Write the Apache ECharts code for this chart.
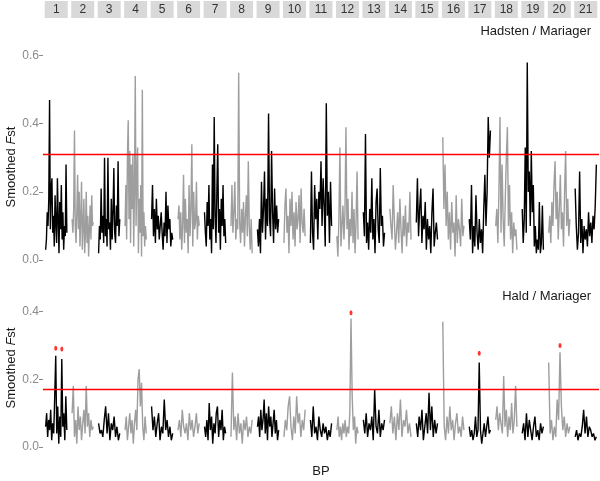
<!DOCTYPE html>
<html>
<head>
<meta charset="utf-8">
<script src="https://cdn.jsdelivr.net/npm/echarts@6/dist/echarts.min.js"></script>
<style>
  html, body { margin: 0; padding: 0; background: #fff; }
  #chart { width: 600px; height: 481px; }
</style>
</head>
<body>
<div id="chart"></div>
<script>
// chromosome strip labels
const chromosomes = ['1','2','3','4','5','6','7','8','9','10','11','12','13','14','15','16','17','18','19','20','21']

// smoothed Fst along each chromosome, Hadsten / Mariager
const hadstenFst = [
  [0.03,0.06,0.14,0.10,0.18,0.47,0.09,0.21,0.24,0.08,0.13,0.04,0.19,0.11,0.05,0.24,0.12,0.02,0.17,0.09,0.22,0.06,0.14,0.03,0.10,0.07,0.28,0.08],
  [0.12,0.08,0.15,0.38,0.10,0.05,0.14,0.25,0.09,0.20,0.04,0.12,0.23,0.03,0.10,0.18,0.02,0.08,0.20,0.05,0.13,0.01,0.09,0.16,0.06,0.19,0.10,0.11],
  [0.02,0.10,0.06,0.21,0.08,0.13,0.05,0.30,0.07,0.12,0.04,0.30,0.09,0.11,0.03,0.18,0.06,0.14,0.27,0.08,0.05,0.16,0.10,0.29,0.07,0.12],
  [0.10,0.22,0.06,0.30,0.41,0.12,0.32,0.05,0.28,0.15,0.31,0.04,0.20,0.54,0.10,0.25,0.33,0.02,0.18,0.08,0.22,0.01,0.50,0.07,0.14,0.04,0.10,0.06],
  [0.12,0.22,0.07,0.15,0.05,0.18,0.09,0.13,0.06,0.10,0.14,0.08,0.03,0.11,0.07,0.20,0.05,0.16,0.09,0.12,0.04,0.08,0.06],
  [0.12,0.16,0.06,0.14,0.03,0.10,0.25,0.05,0.18,0.08,0.12,0.02,0.22,0.07,0.15,0.34,0.04,0.20,0.09,0.11,0.23,0.06,0.13,0.10],
  [0.14,0.08,0.04,0.17,0.10,0.22,0.06,0.12,0.02,0.28,0.09,0.42,0.13,0.05,0.20,0.34,0.08,0.15,0.03,0.18,0.10,0.22,0.07,0.12,0.05],
  [0.10,0.22,0.08,0.14,0.23,0.06,0.12,0.09,0.55,0.11,0.05,0.15,0.08,0.17,0.04,0.13,0.19,0.07,0.29,0.10,0.03,0.12,0.02],
  [0.09,0.04,0.12,0.02,0.23,0.08,0.15,0.26,0.06,0.18,0.10,0.43,0.12,0.07,0.32,0.14,0.05,0.21,0.09,0.16,0.08,0.12],
  [0.05,0.16,0.21,0.08,0.13,0.02,0.18,0.10,0.20,0.06,0.14,0.04,0.17,0.09,0.12,0.19,0.05,0.21,0.11,0.08,0.15,0.07],
  [0.05,0.26,0.08,0.03,0.22,0.12,0.18,0.06,0.20,0.15,0.29,0.10,0.24,0.16,0.04,0.46,0.13,0.20,0.05,0.23,0.10],
  [0.07,0.01,0.12,0.33,0.04,0.10,0.16,0.06,0.14,0.39,0.09,0.18,0.03,0.12,0.07,0.20,0.05,0.15,0.02,0.11,0.26,0.06],
  [0.14,0.07,0.37,0.05,0.11,0.03,0.15,0.08,0.24,0.06,0.12,0.02,0.17,0.21,0.09,0.05,0.27,0.10,0.13,0.04,0.08],
  [0.15,0.10,0.06,0.22,0.12,0.03,0.08,0.14,0.05,0.18,0.09,0.02,0.13,0.07,0.16,0.04,0.11,0.08,0.20,0.06],
  [0.11,0.24,0.07,0.15,0.21,0.05,0.13,0.09,0.17,0.03,0.12,0.06,0.10,0.02,0.14,0.21,0.04,0.08,0.11,0.06],
  [0.36,0.15,0.28,0.10,0.20,0.06,0.14,0.03,0.17,0.08,0.11,0.01,0.19,0.05,0.12,0.09,0.04,0.18,0.07,0.10],
  [0.12,0.06,0.22,0.02,0.10,0.04,0.19,0.08,0.03,0.12,0.05,0.09,0.02,0.15,0.25,0.10,0.20,0.42,0.30,0.38],
  [0.10,0.15,0.05,0.20,0.42,0.08,0.28,0.12,0.04,0.18,0.30,0.39,0.10,0.22,0.06,0.14,0.02,0.11,0.07,0.09,0.03],
  [0.15,0.05,0.12,0.33,0.08,0.58,0.20,0.26,0.10,0.32,0.14,0.22,0.04,0.10,0.02,0.06,0.03,0.17,0.02,0.05,0.16,0.03],
  [0.08,0.13,0.05,0.17,0.10,0.22,0.29,0.12,0.20,0.06,0.15,0.25,0.09,0.14,0.04,0.20,0.32,0.10,0.18,0.07,0.12],
  [0.21,0.10,0.03,0.08,0.26,0.05,0.12,0.02,0.10,0.06,0.09,0.04,0.14,0.07,0.11,0.05,0.13,0.09,0.16,0.28]
]

// smoothed Fst along each chromosome, Hald / Mariager
const haldFst = [
  [0.06,0.10,0.03,0.08,0.05,0.11,0.02,0.07,0.04,0.15,0.27,0.04,0.12,0.01,0.09,0.03,0.26,0.06,0.10,0.02,0.15,0.05],
  [0.10,0.18,0.03,0.08,0.01,0.12,0.05,0.09,0.02,0.07,0.11,0.04,0.18,0.06,0.10,0.03,0.08,0.05,0.06],
  [0.07,0.04,0.05,0.03,0.08,0.12,0.04,0.10,0.02,0.07,0.05,0.09,0.03,0.06,0.02,0.04],
  [0.05,0.09,0.02,0.06,0.10,0.04,0.08,0.01,0.07,0.11,0.05,0.20,0.23,0.12,0.19,0.06,0.02,0.09,0.04],
  [0.12,0.05,0.09,0.03,0.07,0.10,0.02,0.06,0.04,0.14,0.05,0.08,0.03,0.06,0.02,0.04],
  [0.05,0.08,0.03,0.11,0.06,0.04,0.07,0.02,0.10,0.05,0.08,0.03,0.06,0.10,0.04,0.07],
  [0.06,0.03,0.08,0.02,0.13,0.05,0.09,0.01,0.07,0.04,0.10,0.12,0.03,0.08,0.05,0.11,0.02,0.06,0.04],
  [0.03,0.22,0.05,0.09,0.02,0.10,0.04,0.07,0.01,0.08,0.05,0.09,0.03,0.06,0.04,0.08],
  [0.06,0.09,0.03,0.11,0.05,0.08,0.14,0.04,0.10,0.02,0.12,0.06,0.09,0.03,0.07,0.11,0.04,0.08,0.02,0.05],
  [0.03,0.08,0.05,0.12,0.15,0.06,0.02,0.09,0.04,0.15,0.07,0.10,0.03,0.08,0.05,0.11],
  [0.08,0.03,0.12,0.04,0.06,0.02,0.09,0.05,0.03,0.07,0.04,0.06,0.02,0.05,0.03,0.07],
  [0.05,0.09,0.03,0.06,0.02,0.07,0.04,0.08,0.03,0.06,0.04,0.10,0.38,0.15,0.05,0.09,0.01,0.06,0.04],
  [0.08,0.04,0.10,0.03,0.07,0.05,0.09,0.02,0.17,0.06,0.04,0.11,0.03,0.07,0.05,0.08],
  [0.07,0.12,0.04,0.09,0.02,0.10,0.05,0.14,0.03,0.08,0.06,0.11,0.04,0.07,0.03],
  [0.07,0.03,0.09,0.05,0.11,0.02,0.06,0.10,0.04,0.16,0.05,0.12,0.03,0.08,0.04,0.07],
  [0.37,0.06,0.02,0.09,0.04,0.12,0.05,0.08,0.02,0.07,0.10,0.04,0.06,0.03,0.09,0.05],
  [0.06,0.03,0.05,0.02,0.04,0.09,0.03,0.05,0.25,0.05,0.01,0.04,0.07,0.03,0.06,0.09,0.04,0.05],
  [0.08,0.12,0.05,0.10,0.07,0.04,0.21,0.06,0.11,0.03,0.09,0.05,0.13,0.04,0.08,0.18,0.06],
  [0.04,0.07,0.02,0.10,0.03,0.08,0.05,0.02,0.06,0.09,0.03,0.05,0.02,0.07,0.04,0.06],
  [0.25,0.04,0.08,0.02,0.06,0.03,0.14,0.08,0.28,0.12,0.05,0.09,0.03,0.07,0.04,0.06],
  [0.03,0.05,0.02,0.04,0.03,0.06,0.11,0.04,0.09,0.03,0.06,0.05,0.03,0.04,0.02,0.03]
]

// significance thresholds
const hadstenThreshold = 0.313
const haldThreshold = 0.174

// outlier markers: [chromosome index, point index, marker value]
const haldPeaks = [[0, 10, 0.292], [0, 16, 0.29], [11, 12, 0.397], [16, 8, 0.277], [19, 8, 0.30]]

const FONT = 'Liberation Sans, Arial, sans-serif'
const BLACK = '#000000'
const GREY = '#9e9e9e'

// place point j of chromosome c inside its strip
function pos(c, j, n) {
  return c + 0.1 + 0.8 * j / (n - 1)
}

function chromSeries(values, axis) {
  return values.map((vals, c) => ({
    type: 'line',
    xAxisIndex: axis,
    yAxisIndex: axis,
    data: vals.map((v, j) => [pos(c, j, vals.length), v]),
    showSymbol: false,
    clip: false,
    silent: true,
    lineStyle: { color: c % 2 === 0 ? BLACK : GREY, width: 1.4 },
    z: 2
  }))
}

function thresholdSeries(t, axis) {
  return {
    type: 'line',
    xAxisIndex: axis,
    yAxisIndex: axis,
    data: [],
    silent: true,
    z: 5,
    markLine: {
      silent: true,
      symbol: 'none',
      label: { show: false },
      lineStyle: { color: '#ff0000', width: 1.3, type: 'solid' },
      data: [{ yAxis: t }]
    }
  }
}

const valueY = (gi, max) => ({
  type: 'value',
  gridIndex: gi,
  min: 0,
  max: max,
  interval: 0.2,
  axisLine: { show: false },
  axisTick: { show: true, length: 4, lineStyle: { color: '#8a8a8a', width: 1 } },
  axisLabel: { color: '#8a8a8a', fontSize: 12, fontFamily: FONT, margin: 4, formatter: v => v.toFixed(1) },
  splitLine: { show: false }
})

const plainX = (gi, extra) => Object.assign({
  type: 'value',
  gridIndex: gi,
  min: 0,
  max: 21,
  axisLine: { show: false },
  axisTick: { show: false },
  axisLabel: { show: false },
  splitLine: { show: false }
}, extra || {})

const yTitle = (cy) => ({
  type: 'text', x: 11, y: cy, rotation: Math.PI / 2,
  style: {
    text: 'Smoothed {i|F}st', fill: '#1a1a1a', font: '13px ' + FONT, align: 'center', verticalAlign: 'middle',
    rich: { i: { fontStyle: 'italic', fontSize: 13, fontFamily: FONT, fill: '#1a1a1a' } }
  }
})

var myChart = echarts.init(document.getElementById('chart'))
var option = {
  animation: false,
  backgroundColor: '#ffffff',
  textStyle: { fontFamily: FONT },
  title: [
    { text: 'Hadsten / Mariager', right: 4, top: 20, textStyle: { fontSize: 13, fontWeight: 'normal', color: '#1a1a1a', fontFamily: FONT } },
    { text: 'Hald / Mariager', right: 4, top: 285, textStyle: { fontSize: 13, fontWeight: 'normal', color: '#1a1a1a', fontFamily: FONT } }
  ],
  grid: [
    { left: 43, right: 1, top: 1, height: 17 },
    { left: 43, right: 1, top: 55.6, height: 204.4 },
    { left: 43, right: 1, top: 311.7, height: 135.3 }
  ],
  xAxis: [
    { type: 'category', gridIndex: 0, data: chromosomes, show: false },
    plainX(1),
    plainX(2, { name: 'BP', nameLocation: 'middle', nameGap: 18, nameTextStyle: { fontSize: 13, color: '#1a1a1a', fontFamily: FONT } })
  ],
  yAxis: [
    { type: 'value', gridIndex: 0, min: 0, max: 1, show: false },
    valueY(1, 0.6),
    valueY(2, 0.4)
  ],
  graphic: [yTitle(167), yTitle(368)],
  series: [
    {
      type: 'bar',
      xAxisIndex: 0,
      yAxisIndex: 0,
      data: chromosomes.map(() => 1),
      barWidth: 23,
      silent: true,
      itemStyle: { color: '#d9d9d9' },
      label: { show: true, position: 'inside', formatter: '{b}', color: '#333333', fontSize: 12, fontFamily: FONT }
    },
    ...chromSeries(hadstenFst, 1),
    ...chromSeries(haldFst, 2),
    thresholdSeries(hadstenThreshold, 1),
    thresholdSeries(haldThreshold, 2),
    {
      type: 'scatter',
      xAxisIndex: 2,
      yAxisIndex: 2,
      data: haldPeaks.map(p => [pos(p[0], p[1], haldFst[p[0]].length), p[2]]),
      symbol: 'circle',
      symbolSize: [3, 5],
      itemStyle: { color: '#ff0000' },
      silent: true,
      z: 6
    }
  ]
}
if (option && typeof option === 'object') {
  myChart.setOption(option, true)
}
</script>
</body>
</html>
